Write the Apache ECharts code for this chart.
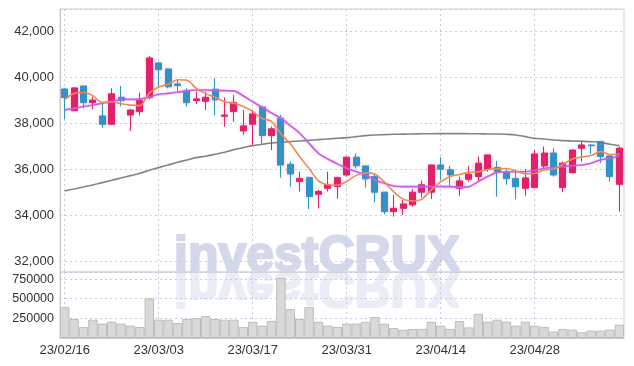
<!DOCTYPE html>
<html>
<head>
<meta charset="utf-8">
<script src="https://cdn.jsdelivr.net/npm/echarts@6/dist/echarts.min.js"></script>
<style>html,body{margin:0;padding:0;background:#fff}#c{width:634px;height:366px}</style>
</head>
<body>
<div id="c"></div>
<script>
const dates = ['23/02/16','23/02/17','23/02/20','23/02/21','23/02/22','23/02/23','23/02/24','23/02/27','23/02/28','23/03/02',
'23/03/03','23/03/06','23/03/07','23/03/08','23/03/09','23/03/10','23/03/13','23/03/14','23/03/15','23/03/16',
'23/03/17','23/03/20','23/03/21','23/03/22','23/03/23','23/03/24','23/03/27','23/03/28','23/03/29','23/03/30',
'23/03/31','23/04/03','23/04/04','23/04/05','23/04/06','23/04/07','23/04/10','23/04/11','23/04/12','23/04/13',
'23/04/14','23/04/17','23/04/18','23/04/19','23/04/20','23/04/21','23/04/24','23/04/25','23/04/26','23/04/27',
'23/04/28','23/05/02','23/05/03','23/05/04','23/05/08','23/05/09','23/05/10','23/05/11','23/05/12','23/05/15'];
const opens  = [39480,38540,39610,38890,38310,37950,39120,38350,38500,39110,40610,40350,39700,39400,38980,38950,39470,38300,38500,37660,
37950,38700,37460,38210,36210,35460,35630,34910,35170,35250,35750,36520,36140,35680,35000,34160,34300,34450,35000,35000,
36180,35970,35170,35560,35680,36000,36070,35850,35590,35170,35200,36140,36700,35200,35850,36910,37050,37200,36570,35340];
const closes = [39110,39530,38890,39000,37950,39270,38980,38570,38980,40830,40320,39580,39630,38890,39050,39120,39010,38350,38890,37880,
38400,37460,37750,36180,35790,35600,34810,35030,35320,35630,36520,36150,35580,35000,34160,34300,34490,35000,35320,36180,
36000,35750,35490,35780,36260,36620,35890,35590,35240,35620,36660,36700,35750,36260,36830,37050,37020,36550,35680,36910];
const lows   = [38170,38520,38640,38610,37800,37950,38720,37660,38330,39030,39570,39510,39370,38720,38830,38570,38350,37850,38060,37490,
37050,37120,36830,35630,35240,35030,34270,34300,35030,34720,35680,36040,35200,34560,34040,33940,34010,34380,34770,34710,
35530,35270,34850,35460,35490,35890,34810,35320,34690,34850,35180,36040,35680,35000,35830,36330,36650,36260,35460,34160];
const highs  = [39510,39550,39620,39140,38860,39510,39610,38590,39320,40910,40650,40380,39920,39510,39370,39370,39950,39110,39220,38570,
38570,38720,37850,38350,36330,35890,35680,35100,35890,35680,36550,36690,36150,35820,35010,34880,34660,35140,35500,36200,
36520,36140,35680,36140,36550,36630,36360,35970,35890,36000,36830,36980,36910,36330,36850,37200,37080,37210,36600,36980];
const volumes = [393000,242000,141000,233000,183000,208000,183000,157000,141000,506000,233000,233000,191000,242000,254000,280000,242000,233000,233000,141000,
206000,157000,218000,765000,367000,242000,393000,206000,157000,141000,183000,183000,206000,267000,183000,128000,105000,115000,115000,206000,
157000,115000,216000,135000,309000,208000,233000,208000,157000,208000,157000,141000,82000,115000,107000,73000,94000,94000,107000,170000];
const ma5  = [39030,39290,39330,39190,38900,38930,38840,38780,38760,39300,39570,39690,39880,39860,39510,39280,39120,38930,38860,38720,
38510,38200,38080,37540,37100,36540,36030,35490,35320,35300,35470,35730,35840,35780,35450,35020,34700,34620,34700,35100,
35450,35680,35770,35860,35890,35985,36015,36030,35925,35800,35810,35970,36000,36210,36440,36525,36590,36760,36640,36650];
const ma20 = [38570,38640,38720,38790,38860,38930,39030,39030,39040,39130,39250,39290,39340,39400,39440,39440,39420,39410,39400,39180,
38930,38690,38440,38210,37890,37560,37120,36690,36440,36230,36040,35890,35750,35530,35390,35270,35240,35240,35240,35240,
35240,35240,35220,35240,35460,35680,35860,35890,35890,35890,35940,36040,36070,36110,36150,36180,36260,36400,36470,36570];
const ma60 = [35055,35141,35228,35315,35416,35518,35619,35720,35821,35952,36067,36183,36299,36400,36500,36560,36646,36733,36849,36936,
37022,37080,37138,37167,37196,37225,37254,37283,37312,37341,37370,37413,37457,37486,37500,37515,37522,37529,37536,37540,
37543,37543,37543,37540,37535,37530,37529,37515,37486,37413,37341,37312,37268,37240,37225,37211,37196,37167,37080,37022];

const UP = '#e3206b', DOWN = '#2b97c9';
const candles = dates.map((d, i) => [opens[i], closes[i], lows[i], highs[i]]);

const chart = echarts.init(document.getElementById('c'), null, {renderer: 'canvas'});
const dotted = {show: true, lineStyle: {color: '#c9cbe0', type: [2, 3], width: 1}};
const labelFont = "'Liberation Sans',Arial,sans-serif";
const wmStyle = {text: 'investCRUX', x: 174, y: 257, fontFamily: labelFont, fontWeight: 'bold', fontSize: 50,
  verticalAlign: 'middle', align: 'left', lineWidth: 2.2};

chart.setOption({
  animation: false,
  backgroundColor: '#fff',
  graphic: [
    {type: 'text', z: -10, x: 0, y: 0, silent: true, style: Object.assign({fill: '#d3d8ea', stroke: '#d3d8ea'}, wmStyle)},
    {type: 'text', z: -10, x: 0, y: 543, scaleY: -1, silent: true, style: Object.assign({fill: '#eaedf5', stroke: '#eaedf5'}, wmStyle)}
  ],
  grid: [
    {left: 60, top: 9, width: 564, height: 263, show: true, borderColor: '#d0d0d0', borderWidth: 1, backgroundColor: 'transparent'},
    {left: 60, top: 272, width: 564, height: 66, show: true, borderColor: '#d0d0d0', borderWidth: 1, backgroundColor: 'transparent'}
  ],
  xAxis: [
    {type: 'category', gridIndex: 0, data: dates, boundaryGap: true,
     axisLine: {show: false}, axisTick: {show: false}, axisLabel: {show: false},
     splitLine: Object.assign({interval: 9, alignWithLabel: true}, dotted)},
    {type: 'category', gridIndex: 1, data: dates, boundaryGap: true,
     axisLine: {show: true, lineStyle: {color: '#c8c8c8'}}, axisTick: {show: false},
     axisLabel: {interval: 9, color: '#333', fontFamily: labelFont, fontSize: 13, margin: 6},
     splitLine: Object.assign({interval: 9, alignWithLabel: true}, dotted)}
  ],
  yAxis: [
    {type: 'value', gridIndex: 0, min: 31535, max: 42955, splitNumber: 5, scale: true,
     axisLine: {show: true, lineStyle: {color: '#c8c8c8'}}, axisTick: {show: false},
     axisLabel: {color: '#333', fontFamily: labelFont, fontSize: 13, margin: 6, showMinLabel: false, showMaxLabel: false,
       formatter: v => v.toLocaleString('en-US')},
     splitLine: dotted},
    {type: 'value', gridIndex: 1, min: 0, max: 840000, interval: 250000,
     axisLine: {show: true, lineStyle: {color: '#c8c8c8'}}, axisTick: {show: false},
     axisLabel: {color: '#333', fontFamily: labelFont, fontSize: 12.5, margin: 6, showMinLabel: false, showMaxLabel: false,
       formatter: v => String(v)},
     splitLine: dotted}
  ],
  series: [
    {type: 'bar', xAxisIndex: 1, yAxisIndex: 1, data: volumes, barCategoryGap: '0%',
     itemStyle: {color: '#d9d9d9', borderColor: '#bdbdbd', borderWidth: 1}, z: 2},
    {type: 'line', xAxisIndex: 0, yAxisIndex: 0, data: ma60, symbol: 'none', smooth: 0.3,
     lineStyle: {color: '#848484', width: 1.6}, z: 3},
    {type: 'candlestick', xAxisIndex: 0, yAxisIndex: 0, data: candles, barWidth: '70%',
     itemStyle: {color: UP, color0: DOWN, borderColor: UP, borderColor0: DOWN, borderWidth: 1,
       shadowBlur: 3, shadowColor: 'rgba(200,60,120,0.25)'}, z: 4},
    {type: 'line', xAxisIndex: 0, yAxisIndex: 0, data: ma20, symbol: 'none', smooth: 0.3,
     lineStyle: {color: '#cc5be6', width: 1.6, shadowBlur: 2, shadowColor: 'rgba(204,91,230,0.4)'}, z: 5},
    {type: 'line', xAxisIndex: 0, yAxisIndex: 0, data: ma5, symbol: 'none', smooth: 0.3,
     lineStyle: {color: '#ef8a55', width: 1.6}, z: 6}
  ]
});
</script>
</body>
</html>
